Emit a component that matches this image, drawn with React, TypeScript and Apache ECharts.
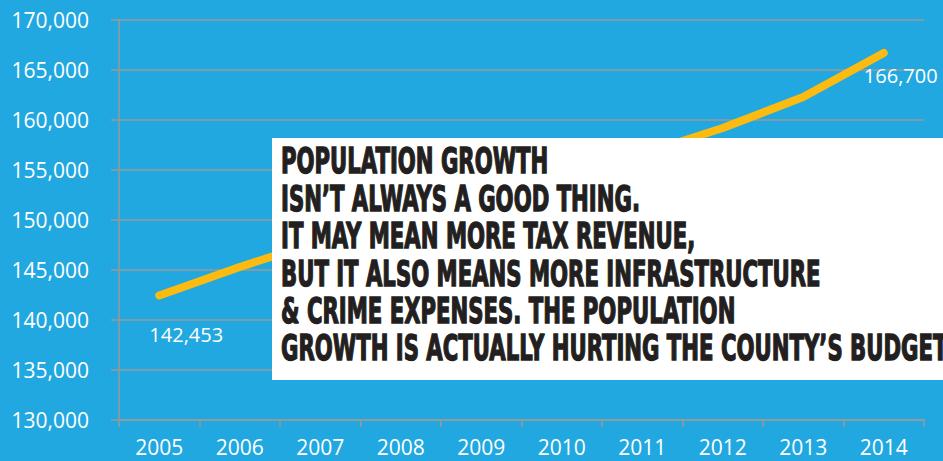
import React, { useEffect, useRef } from "react";
import * as echarts from "echarts";

const years = ["2005", "2006", "2007", "2008", "2009", "2010", "2011", "2012", "2013", "2014"];
const population = [142453, 145300, 147900, 150300, 152500, 154600, 156600, 159200, 162300, 166700];
const labelledIndexes = [0, 9];
const messageLines = [
  "POPULATION GROWTH",
  "ISN\u2019T ALWAYS A GOOD THING.",
  "IT MAY MEAN MORE TAX REVENUE,",
  "BUT IT ALSO MEANS MORE INFRASTRUCTURE",
  "& CRIME EXPENSES. THE POPULATION",
  "GROWTH IS ACTUALLY HURTING THE COUNTY\u2019S BUDGET",
];

export default function App() {
  const ref = useRef<HTMLDivElement>(null);
  useEffect(() => {
    document.body.style.margin = "0";
    const chart = echarts.init(ref.current!, null, { renderer: "svg" });
    const axisFont = { color: "#ffffff", fontSize: 21, fontFamily: "Open Sans" };
    const gray = "#9a9a9a";
    chart.setOption({
      animation: false,
      backgroundColor: "#22a8e0",
      grid: { left: 119, right: 19, top: 20, bottom: 41, containLabel: false },
      xAxis: {
        type: "category",
        data: years,
        boundaryGap: true,
        axisLine: { show: true, lineStyle: { color: gray, width: 1.5 } },
        axisTick: { show: true, length: 7, lineStyle: { color: gray, width: 1.5 } },
        axisLabel: { ...axisFont, margin: 16 },
        splitLine: { show: false },
      },
      yAxis: {
        type: "value",
        min: 130000,
        max: 170000,
        interval: 5000,
        axisLine: { show: true, lineStyle: { color: gray, width: 1.5 } },
        axisTick: { show: true, length: 8, lineStyle: { color: gray, width: 1.5 } },
        axisLabel: {
          ...axisFont,
          margin: 30,
          formatter: (v: number) => v.toLocaleString("en-US"),
        },
        splitLine: { show: true, lineStyle: { color: gray, width: 1.5 } },
      },
      series: [
        {
          type: "line",
          data: population.map((v, i) =>
            labelledIndexes.includes(i)
              ? {
                  value: v,
                  label: {
                    show: true,
                    position: "bottom",
                    offset: i === 0 ? [27, 24] : [17, 7],
                    color: "#ffffff",
                    fontSize: 20,
                    fontFamily: "Open Sans",
                    formatter: (p: any) => Number(p.value).toLocaleString("en-US"),
                  },
                }
              : v
          ),
          showSymbol: true,
          symbol: "circle",
          symbolSize: 1,
          itemStyle: { color: "rgba(0,0,0,0)" },
          lineStyle: { color: "#fbbb10", width: 8, cap: "round", join: "round" },
          z: 3,
        },
      ],
      graphic: [
        {
          type: "rect",
          shape: { x: 272, y: 138, width: 700, height: 242 },
          style: { fill: "#ffffff" },
          z: 100,
        },
        ...messageLines.map((t, i) => ({
          type: "text",
          x: 281,
          y: 161 + i * 37.4,
          scaleX: 0.655,
          z: 101,
          style: {
            text: t,
            fill: "#231f20",
            stroke: "#231f20",
            lineWidth: 1.4,
            font: "bold 36px 'DejaVu Sans Condensed', 'DejaVu Sans', sans-serif",
            verticalAlign: "middle",
          },
        })),
      ],
    });
    return () => chart.dispose();
  }, []);
  return <div ref={ref} style={{ width: 943, height: 461 }} />;
}
